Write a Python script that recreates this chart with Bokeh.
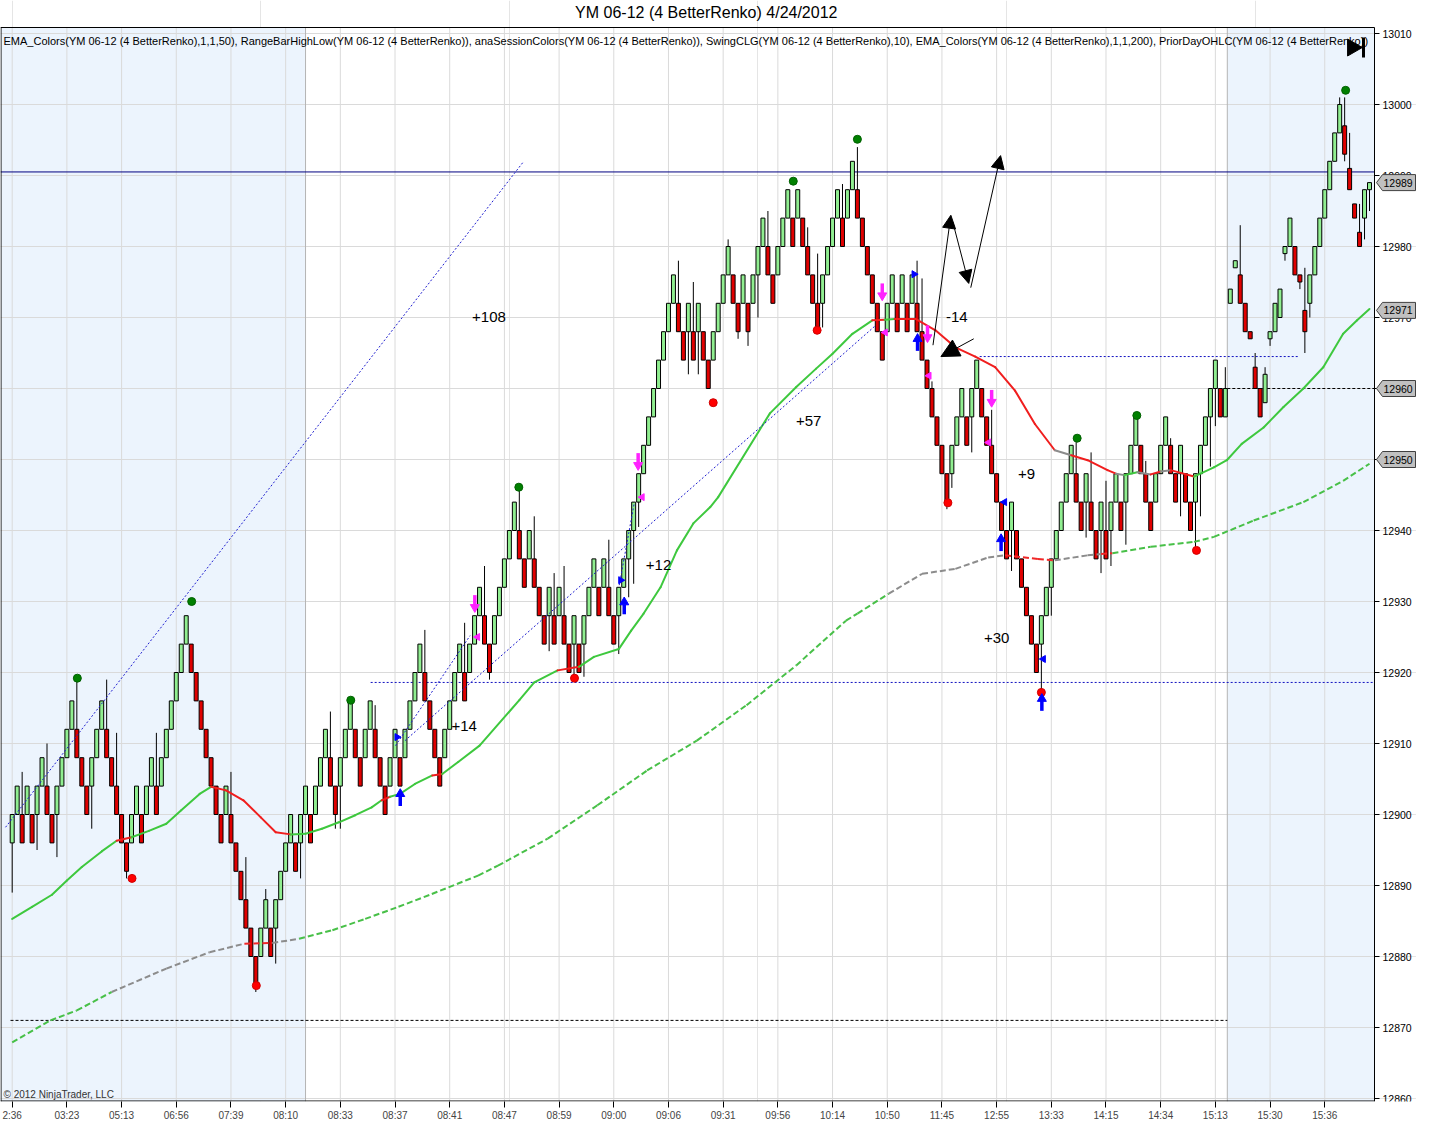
import math
from bokeh.plotting import figure
from bokeh.models import Range1d, LinearAxis, FixedTicker, BoxAnnotation, Arrow, NormalHead
from bokeh.core.properties import value
from bokeh.embed import file_html
from bokeh.resources import INLINE

# ---------------- data ----------------
title_text = "YM 06-12 (4 BetterRenko)  4/24/2012"
indicator_text = ("EMA_Colors(YM 06-12 (4 BetterRenko),1,1,50), RangeBarHighLow(YM 06-12 (4 BetterRenko)), "
                  "anaSessionColors(YM 06-12 (4 BetterRenko)), SwingCLG(YM 06-12 (4 BetterRenko),10), "
                  "EMA_Colors(YM 06-12 (4 BetterRenko),1,1,200), PriorDayOHLC(YM 06-12 (4 BetterRenko))")
copyright_text = "\u00a9 2012 NinjaTrader, LLC"

brick_size = 4
# session 1 bricks (bars 0..244): direction + body low
brick_dir = ("GGRGRGGRRG" "GGGRRRGGGR" "RRRRGGRGGR" "GGGGGGRRRR" "RRRGRRRRRR"
             "GGRGGGGRGG" "RGGGRRGGGR" "RGGRRRGGRG" "GGGRRRRGGG" "GRGGGRRGGG"
             "GGRRGRRRGR" "GRRGRGGGRG" "RRGGGGGGGG" "GGGGRRGRGR" "RGGGGRRGRG"
             "GGRRGGGRGR" "RRRGGGGRGG" "RRRRRRGGRG" "RGRRRRRRRG" "GGRGGRRRRR"
             "RGRRRRRGGG" "GGGGRRGRRG" "RGGRGGGRRR" "GGGRRGRRGG" "GGGRG")
brick_low = [
    12896, 12900, 12896, 12900, 12896, 12900, 12904, 12900, 12896, 12900,
    12904, 12908, 12912, 12908, 12904, 12900, 12904, 12908, 12912, 12908,
    12904, 12900, 12896, 12892, 12896, 12900, 12896, 12900, 12904, 12900,
    12904, 12908, 12912, 12916, 12920, 12924, 12920, 12916, 12912, 12908,
    12904, 12900, 12896, 12900, 12896, 12892, 12888, 12884, 12880, 12876,
    12880, 12884, 12880, 12884, 12888, 12892, 12896, 12892, 12896, 12900,
    12896, 12900, 12904, 12908, 12904, 12900, 12904, 12908, 12912, 12908,
    12904, 12908, 12912, 12908, 12904, 12900, 12904, 12908, 12904, 12908,
    12912, 12916, 12920, 12916, 12912, 12908, 12904, 12908, 12912, 12916,
    12920, 12916, 12920, 12924, 12928, 12924, 12920, 12924, 12928, 12932,
    12936, 12940, 12936, 12932, 12936, 12932, 12928, 12924, 12928, 12924,
    12928, 12924, 12920, 12924, 12920, 12924, 12928, 12932, 12928, 12932,
    12928, 12924, 12928, 12932, 12936, 12940, 12944, 12948, 12952, 12956,
    12960, 12964, 12968, 12972, 12968, 12964, 12968, 12964, 12968, 12964,
    12960, 12964, 12968, 12972, 12976, 12972, 12968, 12972, 12968, 12972,
    12976, 12980, 12976, 12972, 12976, 12980, 12984, 12980, 12984, 12980,
    12976, 12972, 12968, 12972, 12976, 12980, 12984, 12980, 12984, 12988,
    12984, 12980, 12976, 12972, 12968, 12964, 12968, 12972, 12968, 12972,
    12968, 12972, 12968, 12964, 12960, 12956, 12952, 12948, 12944, 12948,
    12952, 12956, 12952, 12956, 12960, 12956, 12952, 12948, 12944, 12940,
    12936, 12940, 12936, 12932, 12928, 12924, 12920, 12924, 12928, 12932,
    12936, 12940, 12944, 12948, 12944, 12940, 12944, 12940, 12936, 12940,
    12936, 12940, 12944, 12940, 12944, 12948, 12952, 12948, 12944, 12940,
    12944, 12948, 12952, 12948, 12944, 12948, 12944, 12940, 12944, 12948,
    12952, 12956, 12960, 12956, 12956]
# session 2 bars (245..273)
late_open = [12972, 12977, 12976, 12972, 12968, 12963, 12960, 12958, 12967, 12968,
             12970, 12979, 12980, 12980, 12976, 12971, 12972, 12976, 12980, 12984,
             12988, 12992, 12996, 12997, 12991, 12986, 12982, 12984, 12988]
late_close = [12974, 12978, 12972, 12968, 12967, 12960, 12956, 12962, 12968, 12972,
              12974, 12980, 12984, 12976, 12975, 12968, 12976, 12980, 12984, 12988,
              12992, 12996, 13000, 12993, 12988, 12984, 12980, 12988, 12989]

wick_hi_bar = [2, 7, 13, 19, 21, 29, 44, 47, 51, 64, 68, 73, 83, 91, 95, 102, 105, 109, 111, 120,
               134, 137, 144, 152, 160, 162, 167, 170, 182, 183, 185, 197, 214, 217, 220, 228, 233,
               244, 247, 250, 252, 260, 267, 268, 269, 271]
wick_hi_val = [12906, 12910, 12919, 12919, 12911.5, 12911.5, 12906, 12894, 12889.5, 12914.5, 12916,
               12915.4, 12926, 12927, 12935, 12946, 12942, 12934, 12935, 12938.7,
               12978, 12975, 12981, 12985, 12982.7, 12979, 12988.8, 12994, 12978, 12975.5, 12961,
               12957, 12953, 12951, 12947, 12949.8, 12953,
               12963, 12983, 12965, 12963, 12977, 13001, 13001, 12996, 12986]
wick_lo_bar = [0, 5, 9, 16, 23, 49, 53, 58, 65, 66, 96, 108, 113, 115, 122, 124, 125, 126, 136, 138,
               146, 148, 150, 163, 188, 189, 193, 201, 207, 209, 216, 219, 221, 224, 235, 238, 239,
               241, 242, 253, 256, 259, 260, 261, 268, 272, 273]
wick_lo_val = [12889, 12895, 12894, 12898, 12891, 12875, 12879, 12891, 12898, 12898, 12919, 12923,
               12919, 12919.4, 12922.6, 12930.6, 12932.5, 12940.5, 12962, 12962,
               12967, 12966, 12970, 12968.6, 12943, 12946, 12951, 12934.3, 12917, 12928, 12939,
               12934, 12935, 12938, 12942, 12937, 12942,
               12949, 12954.7, 12966, 12978, 12974, 12965, 12970, 12992, 12981, 12985]

time_ticks = [0, 11, 22, 33, 44, 55, 66, 77, 88, 99, 110, 121, 132, 143, 154, 165, 176, 187,
              198, 209, 220, 231, 242, 253, 264]
time_labels = ["2:36", "03:23", "05:13", "06:56", "07:39", "08:10", "08:33", "08:37", "08:41",
               "08:47", "08:59", "09:00", "09:06", "09:31", "09:56", "10:14", "10:50", "11:45",
               "12:55", "13:33", "14:15", "14:34", "15:13", "15:30", "15:36"]
price_ticks = list(range(12860, 13011, 10))

ema50_x = [0, 4, 8, 11, 14, 18, 21, 24, 27.5, 31, 34, 37.7, 40, 43, 46.5, 50, 53, 56, 59, 62.3,
           65.7, 69, 72.3, 74.3, 76, 78, 81, 84.5, 86.5, 89.7, 94, 102, 105, 109.7, 114, 117, 122,
           124.5, 127, 130.4, 133.7, 137, 140.4, 142, 152.4, 157.7, 161.7, 165, 169, 173, 175.5,
           177.5, 181.7, 185.7, 189.7, 193.7, 197.7, 201.7, 205.7, 209.7, 213, 216.3, 220.3, 222,
           223.7, 226.3, 229, 231, 233, 237.7, 241.7, 244.3, 247.3, 251.7, 255.7, 259.7, 263.7,
           267.7, 270.5, 273]
ema50_y = [12885.3, 12887.0, 12888.7, 12890.7, 12892.6, 12894.8, 12896.3, 12896.8, 12897.7, 12898.7,
           12900.6, 12902.9, 12903.9, 12903.4, 12902.0, 12899.6, 12897.5, 12897.2, 12897.3, 12898.0,
           12898.9, 12899.9, 12901.0, 12902.0, 12902.5, 12902.9, 12904.3, 12905.5, 12905.7, 12907.4,
           12909.7, 12916.1, 12918.6, 12920.3, 12920.8, 12922.2, 12923.3, 12925.9, 12928.3, 12932.0,
           12937.2, 12941.0, 12943.3, 12944.7, 12956.5, 12960.2, 12962.8, 12964.9, 12967.7, 12969.6,
           12969.7, 12969.8, 12969.8, 12968.2, 12965.8, 12964.5, 12963.0, 12959.7, 12955.0, 12951.3,
           12950.6, 12949.9, 12948.5, 12948.0, 12947.8, 12948.2, 12947.9, 12948.3, 12948.5, 12947.6,
           12948.9, 12949.9, 12952.2, 12954.5, 12957.4, 12960.0, 12963.0, 12967.7, 12969.6, 12971.2]
ema50_state = "GGGGGGRGGGGGRRRRRGGGGGGRGGGRGGGGGRGGGGGGGGGGGGGGGRGRRRRRRRRNRRRNGNRNRGGGGGGGGGGG"

ema200_x = [0, 7.7, 13, 20, 31, 39.7, 46.7, 52.3, 57.7, 64.4, 71, 77.7, 84.4, 93.7, 97.7, 107.7,
            117.7, 127.7, 137.7, 147.7, 157.7, 167.7, 170, 176.3, 183, 189.7, 196.3, 199.7, 206.3,
            209.7, 216.3, 219, 221.3, 229, 237.7, 241.7, 249.7, 259.7, 267.7, 273]
ema200_y = [12867.9, 12871.0, 12872.4, 12875.0, 12878.3, 12880.6, 12881.8, 12881.9, 12882.5, 12883.7,
            12885.3, 12887.0, 12888.8, 12891.4, 12892.8, 12896.6, 12901.3, 12906.2, 12910.4, 12915.4,
            12921.0, 12927.3, 12928.3, 12931.1, 12933.9, 12934.6, 12936.2, 12936.5, 12936.0, 12935.8,
            12936.5, 12936.7, 12936.8, 12937.7, 12938.4, 12939.1, 12941.4, 12944.0, 12947.0, 12949.4]
ema200_state = "GGGNNNRNGGGGGGGGGGGGGGGNNNNRRNNRGGGGGGGG"

swing_hi_x = [13.1, 36.1, 68.1, 101.9, 157.1, 170.0, 214.2, 226.2, 268.2]
swing_hi_y = [12919.2, 12930.0, 12916.1, 12946.1, 12989.2, 12995.1, 12953.0, 12956.2, 13002.0]
swing_lo_x = [24.1, 49.1, 113.1, 141.0, 161.9, 188.2, 207.0, 238.2]
swing_lo_y = [12891.0, 12875.9, 12919.2, 12958.0, 12968.2, 12943.9, 12917.2, 12937.2]

buy_arrow_x = [78.05, 123.1, 182.1, 198.9, 207.1]
buy_arrow_y = [12902.2, 12929.2, 12966.3, 12938.1, 12915.6]
sell_arrow_x = [93.05, 125.9, 175.0, 184.1, 197.0]
sell_arrow_y = [12929.9, 12949.9, 12973.8, 12967.9, 12958.8]
pink_tri_x = [93.6, 126.7, 175.6, 184.4, 196.4]
pink_tri_y = [12925.0, 12944.7, 12967.9, 12961.8, 12952.4]
blue_right_x = [77.4, 122.4, 181.4]
blue_right_y = [12910.9, 12933.0, 12976.1]
blue_left_x = [199.6, 207.4]
blue_left_y = [12944.0, 12921.9]

note_text = ["+108", "+57", "+12", "+14", "-14", "+9", "+30"]
note_x = [95.9, 160.2, 130.0, 90.9, 190.0, 204.0, 198.0]
note_y = [12970.1, 12955.4, 12935.1, 12912.4, 12970.1, 12947.9, 12924.9]

prior_high = 12990.5
prior_close = 12960.0
prior_low = 12871.0
range_low = 12918.6
range_high = 12964.5
session1_end = 59.0
session2_start = 244.4

trend_x0 = [-1.34, 79.0, 77.1, 122.1]
trend_y0 = [12898.2, 12910.4, 12909.7, 12932.3]
trend_x1 = [102.9, 173.7, 92.1, 125.1]
trend_y1 = [12992.0, 12968.9, 12925.2, 12943.8]

draw_x0 = [185.2, 189.2, 192.8, 193.4]
draw_y0 = [12966.1, 12983.4, 12974.2, 12967.0]
draw_x1 = [188.8, 192.4, 198.8, 186.8]
draw_y1 = [12984.4, 12974.8, 12992.8, 12964.5]

tag_values = [12989, 12971, 12960, 12950]

# ---------------- layout (pixel geometry) ----------------
W, H = 1416, 1131
FRAME_H = 1101            # frame covers title, plot area and price axis
PLOT_RIGHT = 1374         # pixel x of the price-axis line
PXB = (PLOT_RIGHT - 5 - 11.7) / 273   # pixels per bar
PXP = 7.1                 # pixels per point
X0 = -11.7 / PXB
X1 = X0 + W / PXB
Y1 = 12860 + 1098 / PXP
Y0 = Y1 - FRAME_H / PXP
XA = X0 + PLOT_RIGHT / PXB
YT = Y1 - 27 / PXP        # top edge of plot area
FONT = "Liberation Sans"

# ---------------- build ----------------
opens, closes = [], []
for lo, d in zip(brick_low, brick_dir):
    if d == "G":
        opens.append(lo); closes.append(lo + brick_size)
    else:
        opens.append(lo + brick_size); closes.append(lo)
opens += late_open
closes += late_close
n = len(opens)
xs = list(range(n))
highs = [max(o, c) for o, c in zip(opens, closes)]
lows = [min(o, c) for o, c in zip(opens, closes)]
for b, v in zip(wick_hi_bar, wick_hi_val):
    highs[b] = max(highs[b], v)
for b, v in zip(wick_lo_bar, wick_lo_val):
    lows[b] = min(lows[b], v)
body_top = [max(o, c) for o, c in zip(opens, closes)]
body_bot = [min(o, c) for o, c in zip(opens, closes)]
body_col = ["#90EE90" if c > o else "#E00000" for o, c in zip(opens, closes)]

p = figure(width=W, height=H, output_backend="svg", toolbar_location=None,
           x_range=Range1d(X0, X1), y_range=Range1d(Y0, Y1),
           x_axis_location=None, y_axis_location=None,
           min_border_left=0, min_border_right=0, min_border_top=0, min_border_bottom=H - FRAME_H,
           background_fill_color="white", border_fill_color="white", outline_line_color=None)

sess_fill = "#ECF4FD"
p.add_layout(BoxAnnotation(left=X0, right=session1_end, top=YT, bottom=Y0, fill_color=sess_fill,
                           fill_alpha=1.0, line_alpha=0, level="underlay"))
p.add_layout(BoxAnnotation(left=session2_start, right=XA, top=YT, bottom=Y0, fill_color=sess_fill,
                           fill_alpha=1.0, line_alpha=0, level="underlay"))

# grid
p.segment(x0=time_ticks, y0=[Y0] * len(time_ticks), x1=time_ticks, y1=[YT] * len(time_ticks),
          line_color="#DADADA", line_width=1)
p.segment(x0=[X0] * len(price_ticks), y0=price_ticks, x1=[XA] * len(price_ticks), y1=price_ticks,
          line_color="#DADADA", line_width=1)
p.segment(x0=[session1_end, session2_start], y0=[Y0, Y0], x1=[session1_end, session2_start],
          y1=[YT, YT], line_color="#B4B4B4", line_width=1)

# time axis (labels + ticks only)
xax = LinearAxis(ticker=FixedTicker(ticks=time_ticks),
                 major_label_overrides={t: l for t, l in zip(time_ticks, time_labels)})
xax.axis_line_color = None
xax.major_tick_line_color = "black"
xax.major_tick_out = 6
xax.major_tick_in = 0
xax.minor_tick_line_color = None
xax.major_label_text_font = FONT
xax.major_label_text_font_size = "10px"
xax.major_label_standoff = 2
p.add_layout(xax, "below")

# horizontal levels
p.segment(x0=[X0], y0=[prior_high], x1=[XA], y1=[prior_high], line_color="#000080", line_width=1)
p.segment(x0=[-0.34], y0=[prior_low], x1=[session2_start], y1=[prior_low],
          line_color="black", line_width=1, line_dash="3 2")
p.segment(x0=[session2_start], y0=[prior_close], x1=[XA], y1=[prior_close],
          line_color="black", line_width=1, line_dash="3 2")
p.segment(x0=[72.1], y0=[range_low], x1=[XA], y1=[range_low],
          line_color="#1010C0", line_width=1, line_dash="2 2")
p.segment(x0=[194.6], y0=[range_high], x1=[258.8], y1=[range_high],
          line_color="#1010C0", line_width=1, line_dash="2 2")

# bars
p.segment(x0=xs, y0=lows, x1=xs, y1=highs, line_color="black", line_width=1)
p.vbar(x=xs, top=body_top, bottom=body_bot, width=0.8, fill_color=body_col,
       line_color="black", line_width=1)

# EMAs
state_col = {"G": "#3EC83E", "R": "#F01E1E", "N": "#8C8C8C"}
state_col2 = {"G": "#48C048", "R": "#F02828", "N": "#8C8C8C"}
p.segment(x0=ema200_x[:-1], y0=ema200_y[:-1], x1=ema200_x[1:], y1=ema200_y[1:],
          line_color=[state_col2[s] for s in ema200_state[:len(ema200_x) - 1]],
          line_width=2, line_dash="6 3")
p.segment(x0=ema50_x[:-1], y0=ema50_y[:-1], x1=ema50_x[1:], y1=ema50_y[1:],
          line_color=[state_col[s] for s in ema50_state[:len(ema50_x) - 1]],
          line_width=2, line_cap="round")

# trend lines
p.segment(x0=trend_x0, y0=trend_y0, x1=trend_x1, y1=trend_y1,
          line_color="#2020D0", line_width=1, line_dash="2 2")

# swing dots
p.scatter(swing_hi_x, swing_hi_y, marker="circle", size=8, fill_color="#008000", line_color="#006000")
p.scatter(swing_lo_x, swing_lo_y, marker="circle", size=8, fill_color="#FF0000", line_color="#D00000")

# signal arrows
p.segment(x0=buy_arrow_x, y0=[y - 1.0 for y in buy_arrow_y], x1=buy_arrow_x,
          y1=[y + 0.4 for y in buy_arrow_y], line_color="#0000FF", line_width=3.5)
p.scatter(buy_arrow_x, [y + 0.7 for y in buy_arrow_y], marker="triangle", size=9,
          fill_color="#0000FF", line_color="#0000FF")
p.segment(x0=sell_arrow_x, y0=[y + 1.0 for y in sell_arrow_y], x1=sell_arrow_x,
          y1=[y - 0.4 for y in sell_arrow_y], line_color="#FF22FF", line_width=3.5)
p.scatter(sell_arrow_x, [y - 0.7 for y in sell_arrow_y], marker="inverted_triangle", size=9,
          fill_color="#FF22FF", line_color="#FF22FF")
p.scatter(pink_tri_x, pink_tri_y, marker="triangle", angle=math.pi / 2, size=7,
          fill_color="#FF22FF", line_color="#FF22FF")
p.scatter(blue_right_x, blue_right_y, marker="triangle", angle=-math.pi / 2, size=7,
          fill_color="#0000FF", line_color="#0000FF")
p.scatter(blue_left_x, blue_left_y, marker="triangle", angle=math.pi / 2, size=7,
          fill_color="#0000FF", line_color="#0000FF")

# hand-drawn arrows
for i, (a, b, c, d) in enumerate(zip(draw_x0, draw_y0, draw_x1, draw_y1)):
    sz = 18 if i == 3 else 13
    p.add_layout(Arrow(end=NormalHead(size=sz, fill_color="black", line_color="black"),
                       x_start=a, y_start=b, x_end=c, y_end=d, line_color="black", line_width=1))

# notes
p.text(x=note_x, y=note_y, text=note_text, text_font=value(FONT), text_font_size="15px",
       text_align="center", text_baseline="middle", text_color="black")

# header / footer text inside plot
p.text(x=[X0 + 3 / PXB], y=[YT - 13 / PXP], text=[indicator_text], text_font=value(FONT),
       text_font_size="11px", text_align="left", text_baseline="middle", text_color="black")
p.text(x=[X0 + 3 / PXB], y=[Y0 + 7 / PXP], text=[copyright_text], text_font=value(FONT),
       text_font_size="10px", text_align="left", text_baseline="middle", text_color="#333333")

# play-to-end icon
p.scatter([XA - 22 / PXB], [Y1 - 47 / PXP], marker="triangle", angle=-math.pi / 2, size=17,
          fill_color="black", line_color="black")
p.segment(x0=[XA - 11 / PXB], y0=[Y1 - 37 / PXP], x1=[XA - 11 / PXB], y1=[Y1 - 57 / PXP],
          line_color="black", line_width=3)

# plot-area border
p.segment(x0=[X0 + 0.5 / PXB, X0, XA, X0], y0=[Y0, YT, Y0, Y0 + 0.5 / PXP],
          x1=[X0 + 0.5 / PXB, XA, XA, XA], y1=[YT, YT, YT, Y0 + 0.5 / PXP],
          line_color="black", line_width=1)

# price axis (ticks + labels)
p.segment(x0=[XA] * len(price_ticks), y0=price_ticks, x1=[XA + 5 / PXB] * len(price_ticks),
          y1=price_ticks, line_color="black", line_width=1)
p.text(x=[XA + 8 / PXB] * len(price_ticks), y=price_ticks, text=[str(v) for v in price_ticks],
       text_font=value(FONT), text_font_size="10.5px", text_align="left", text_baseline="middle",
       text_color="black")

# price tags
tip = XA + 2 / PXB
bl = XA + 8 / PXB
br = X1 - 1 / PXB
hh = 8 / PXP
p.patches(xs=[[tip, bl, br, br, bl] for _ in tag_values],
          ys=[[v, v + hh, v + hh, v - hh, v - hh] for v in tag_values],
          fill_color="#C0C0C0", line_color="#404040", line_width=1)
p.text(x=[XA + 9 / PXB] * len(tag_values), y=tag_values, text=[str(v) for v in tag_values],
       text_font=value(FONT), text_font_size="10.5px", text_align="left", text_baseline="middle",
       text_color="black")

# title
p.text(x=[X0 + 708 / PXB], y=[Y1 - 12 / PXP], text=[title_text], text_font=value(FONT),
       text_font_size="16px", text_align="center", text_baseline="middle", text_color="black")

open("out.html", "w").write(file_html(p, INLINE))
